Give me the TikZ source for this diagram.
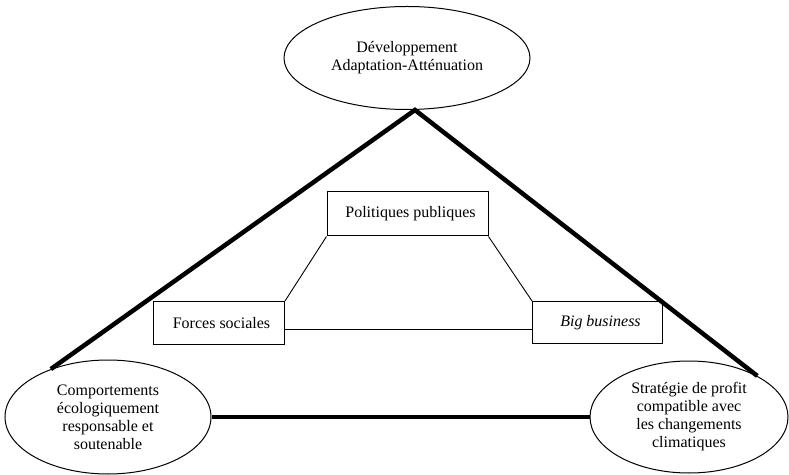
\documentclass[tikz,border=0pt]{standalone}
\usepackage{fontspec}
\setmainfont{Liberation Serif}
\usetikzlibrary{shapes.geometric}
\begin{document}
\begin{tikzpicture}[x=1pt,y=1pt,
  ell/.style={draw,line width=1pt,ellipse,inner sep=0pt,align=center,font=\fontsize{16}{18}\selectfont},
  bx/.style={draw,line width=1pt,rectangle,inner sep=0pt,font=\fontsize{16}{18}\selectfont},
  thick line/.style={line width=4.5pt},
  thin line/.style={line width=0.9pt}]
\useasboundingbox (0,0) rectangle (789,474);
\node[ell,minimum width=246,minimum height=103] (top) at (407,416) {Développement\\Adaptation-Atténuation};
\node[ell,minimum width=206,minimum height=114] (left) at (108,57) {Comportements\\écologiquement\\responsable et\\soutenable};
\node[ell,minimum width=198,minimum height=112] (right) at (689,57) {Stratégie de profit\\compatible avec\\les changements\\climatiques};
\node[bx,minimum width=161,minimum height=44] (pol) at (407.5,260) {\hspace{6pt}Politiques publiques};
\node[bx,minimum width=131,minimum height=43,anchor=north west] (forces) at (153,173) {\hspace{5pt}Forces sociales};
\node[bx,minimum width=130,minimum height=42,anchor=north west] (big) at (532,173) {\hspace{6pt}\textit{Big business}};
\coordinate (apex) at (415,364);
\draw[thick line] (left.140) -- (apex) -- (right.31);
\draw[thick line] (left.east) -- (right.west);
\draw[thin line] (pol.south west) -- (forces.north east);
\draw[thin line] (pol.south east) -- (big.north west);
\draw[thin line] (forces.east |- 0,145) -- (big.west |- 0,145);
\end{tikzpicture}
\end{document}
